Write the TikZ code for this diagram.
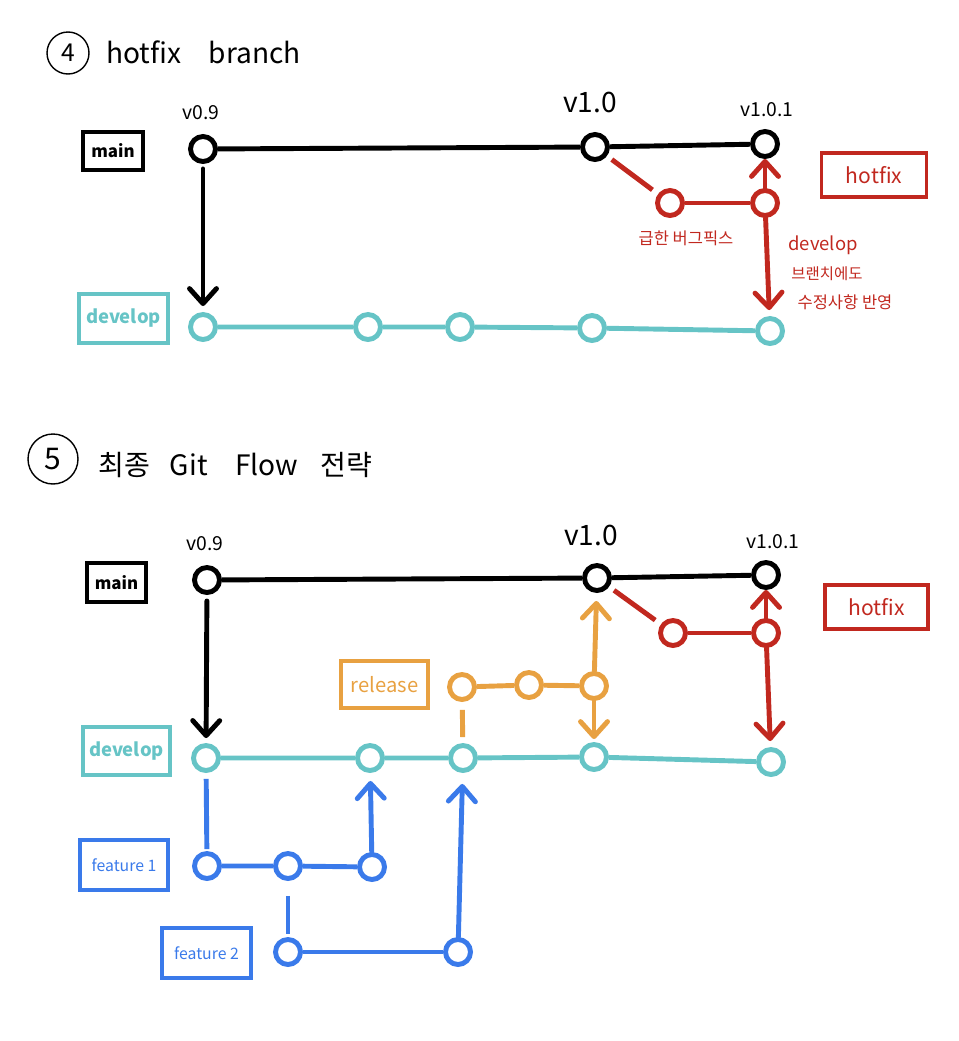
\documentclass[tikz,border=0pt]{standalone}
\usepackage{fontspec}
\setmainfont{Noto Sans CJK KR}
\usepackage{xcolor}
\usepackage{tikz}
\usetikzlibrary{arrows.meta,positioning}

\definecolor{gfteal}{HTML}{66C4C6}
\definecolor{gfred}{HTML}{C1281F}
\definecolor{gforange}{HTML}{E8A141}
\definecolor{gfblue}{HTML}{3A7AEA}

\begin{document}
\begin{tikzpicture}[
			x=0.02cm, y=-0.02cm,
			commit/.style={circle, draw, line width=2.8pt, minimum size=0.5cm, inner sep=0pt, fill=white},
			tagbox/.style={rectangle, draw, line width=2pt, inner sep=0pt},
			numcircle/.style={circle, draw, line width=0.8pt, inner sep=0pt},
			title/.style={font=\fontsize{16}{18}\selectfont},
			version/.style={font=\fontsize{11}{12}\selectfont},
			note/.style={text=gfred, font=\fontsize{9.4}{11}\selectfont},
			edge/.style={draw, line width=2.8pt},
			merge/.style={edge, line cap=round, -{Straight Barb[length=0.3cm, width=0.54cm, line cap=round, line join=round]}}
			]
			\useasboundingbox (0,0) rectangle (958,1041);

			% 4) hotfix branch
			\node [numcircle, minimum size=0.84cm, font=\fontsize{14}{16}\selectfont] (num4) at (68,53) {4};
			\node [title, anchor=base west] (title4) at (100,63) {hotfix\hspace{0.55cm}branch};

			\node [tagbox, minimum width=1.2cm, minimum height=0.76cm, font=\bfseries\fontsize{9.6}{11}\selectfont] (main4) at (113,151) {main};
			\node [tagbox, draw=gfteal, text=gfteal, minimum width=1.78cm, minimum height=0.98cm, font=\bfseries\fontsize{10.5}{12}\selectfont] (dev4) at (123.5,318.5) {develop};
			\node [tagbox, draw=gfred, text=gfred, minimum width=2.1cm, minimum height=0.88cm, font=\fontsize{12}{14}\selectfont] (hot4) at (874,175) {hotfix};

			\node [commit] (m4a) at (203,149) {};
			\node [commit] (m4b) at (595,147) {};
			\node [commit] (m4c) at (765,144) {};
			\node [commit, draw=gfred] (h4a) at (670,203) {};
			\node [commit, draw=gfred] (h4b) at (765,203) {};
			\node [commit, draw=gfteal] (d4a) at (203,327) {};
			\node [commit, draw=gfteal] (d4b) at (368,327) {};
			\node [commit, draw=gfteal] (d4c) at (460,327) {};
			\node [commit, draw=gfteal] (d4d) at (592,328) {};
			\node [commit, draw=gfteal] (d4e) at (770,331) {};

			\node [version] (v4a) at (201,113) {v0.9};
			\node [version, font=\fontsize{16}{18}\selectfont] (v4b) at (590,102) {v1.0};
			\node [version] (v4c) at (767,110) {v1.0.1};
			\node [note] (fix4) at (686,238) {급한 버그픽스};
			\node [note, font=\fontsize{10.5}{12}\selectfont] (note4a) at (823,245) {develop};
			\node [note, font=\fontsize{8.8}{10}\selectfont] (note4b) at (827,274) {브랜치에도};
			\node [note] (note4c) at (845,302) {수정사항 반영};

			\path [edge] (m4a) -- (m4b) -- (m4c);
			\path [edge, gfteal] (d4a) -- (d4b) -- (d4c) -- (d4d) -- (d4e);
			\path [edge, gfred, shorten <=0.12cm, shorten >=0.14cm] (m4b) -- (h4a);
			\path [edge, gfred] (h4a) -- (h4b);
			\path [merge, shorten <=0.1cm, shorten >=0.12cm] (m4a) -- (d4a);
			\path [merge, gfred] (h4b) -- (m4c);
			\path [merge, gfred, shorten >=0.12cm] (h4b) -- (d4e);

			% 5) final Git Flow
			\node [numcircle, minimum size=1.0cm, font=\fontsize{17}{19}\selectfont] (num5) at (53,459) {5};
			\node [title, anchor=base west] (title5) at (92,475) {최종\hspace{0.4cm}Git\hspace{0.55cm}Flow\hspace{0.45cm}전략};

			\node [tagbox, minimum width=1.18cm, minimum height=0.78cm, font=\bfseries\fontsize{9.6}{11}\selectfont] (main5) at (116.5,582.5) {main};
			\node [tagbox, draw=gfteal, text=gfteal, minimum width=1.74cm, minimum height=0.96cm, font=\bfseries\fontsize{10.5}{12}\selectfont] (dev5) at (126.5,751) {develop};
			\node [tagbox, draw=gfred, text=gfred, minimum width=2.06cm, minimum height=0.88cm, font=\fontsize{12}{14}\selectfont] (hot5) at (876.5,607) {hotfix};
			\node [tagbox, draw=gforange, text=gforange, minimum width=1.74cm, minimum height=0.94cm, font=\fontsize{11.5}{13}\selectfont] (rel5) at (384.5,684.5) {release};
			\node [tagbox, draw=gfblue, text=gfblue, minimum width=1.76cm, minimum height=1.0cm, font=\fontsize{9}{11}\selectfont] (fe5a) at (124,865) {feature 1};
			\node [tagbox, draw=gfblue, text=gfblue, minimum width=1.78cm, minimum height=1.0cm, font=\fontsize{9}{11}\selectfont] (fe5b) at (206.5,953) {feature 2};

			\node [commit] (m5a) at (207,580) {};
			\node [commit] (m5b) at (597,578) {};
			\node [commit] (m5c) at (766,575) {};
			\node [commit, draw=gfred] (h5a) at (673,633) {};
			\node [commit, draw=gfred] (h5b) at (766,633) {};
			\node [commit, draw=gforange] (r5a) at (462,687) {};
			\node [commit, draw=gforange] (r5b) at (529,685) {};
			\node [commit, draw=gforange] (r5c) at (594,686) {};
			\node [commit, draw=gfteal] (d5a) at (206,758) {};
			\node [commit, draw=gfteal] (d5b) at (370,758) {};
			\node [commit, draw=gfteal] (d5c) at (463,758) {};
			\node [commit, draw=gfteal] (d5d) at (594,757) {};
			\node [commit, draw=gfteal] (d5e) at (771,762) {};
			\node [commit, draw=gfblue] (f5a) at (207,866) {};
			\node [commit, draw=gfblue] (f5b) at (288,866) {};
			\node [commit, draw=gfblue] (f5c) at (372,867) {};
			\node [commit, draw=gfblue] (g5a) at (288,952) {};
			\node [commit, draw=gfblue] (g5b) at (458,952) {};

			\node [version] (v5a) at (205,544) {v0.9};
			\node [version, font=\fontsize{16}{18}\selectfont] (v5b) at (591,535) {v1.0};
			\node [version] (v5c) at (773,542) {v1.0.1};

			\path [edge] (m5a) -- (m5b) -- (m5c);
			\path [edge, gfteal] (d5a) -- (d5b) -- (d5c) -- (d5d) -- (d5e);
			\path [merge, shorten <=0.12cm, shorten >=0.1cm] (m5a) -- (d5a);
			% hotfix
			\path [edge, gfred, shorten <=0.12cm, shorten >=0.14cm] (m5b) -- (h5a);
			\path [edge, gfred] (h5a) -- (h5b);
			\path [merge, gfred] (h5b) -- (m5c);
			\path [merge, gfred, shorten >=0.12cm] (h5b) -- (d5e);
			% release
			\path [edge, gforange, shorten <=0.12cm, shorten >=0.16cm] (d5c) -- (r5a);
			\path [edge, gforange] (r5a) -- (r5b) -- (r5c);
			\path [merge, gforange, shorten >=0.16cm] (r5c) -- (m5b);
			\path [merge, gforange, shorten >=0.06cm] (r5c) -- (d5d);
			% features
			\path [edge, gfblue, shorten <=0.12cm, shorten >=0.04cm] (d5a) -- (f5a);
			\path [edge, gfblue] (f5a) -- (f5b) -- (f5c);
			\path [merge, gfblue, shorten >=0.16cm] (f5c) -- (d5b);
			\path [edge, gfblue, shorten <=0.3cm, shorten >=0.06cm] (f5b) -- (g5a);
			\path [edge, gfblue] (g5a) -- (g5b);
			\path [merge, gfblue, shorten >=0.22cm] (g5b) -- (d5c);
		\end{tikzpicture}
\end{document}
